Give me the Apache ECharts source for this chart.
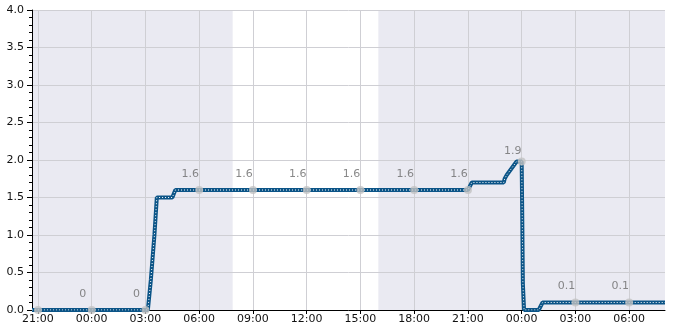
<!DOCTYPE html>
<html>
<head>
<meta charset="utf-8">
<script src="https://cdn.jsdelivr.net/npm/echarts@6/dist/echarts.min.js"></script>
<style>html,body{margin:0;padding:0;background:#fff}#c{width:685px;height:330px}</style>
</head>
<body>
<div id="c"></div>
<script>
// ---- data ----
const axisStart = "2024-01-01T20:40";
const axisEnd = "2024-01-03T08:00";
const tickTimes = ["2024-01-01T21:00","2024-01-02T00:00","2024-01-02T03:00","2024-01-02T06:00","2024-01-02T09:00","2024-01-02T12:00","2024-01-02T15:00","2024-01-02T18:00","2024-01-02T21:00","2024-01-03T00:00","2024-01-03T03:00","2024-01-03T06:00"];
const tickLabels = ["21:00","00:00","03:00","06:00","09:00","12:00","15:00","18:00","21:00","00:00","03:00","06:00"];
const lineTimes = ["2024-01-01T20:40","2024-01-02T03:08","2024-01-02T03:18","2024-01-02T03:30","2024-01-02T03:38","2024-01-02T04:30","2024-01-02T04:40","2024-01-02T21:00","2024-01-02T21:13","2024-01-02T23:00","2024-01-02T23:03","2024-01-02T23:10","2024-01-02T23:43","2024-01-03T00:00","2024-01-03T00:02","2024-01-03T00:04","2024-01-03T00:08","2024-01-03T00:57","2024-01-03T01:10","2024-01-03T08:00"];
const lineValues = [0,0,0.4,1.0,1.5,1.5,1.6,1.6,1.7,1.7,1.75,1.8,1.98,1.98,1.2,0.35,0,0,0.1,0.1];
const markerTimes = tickTimes;
const markerValues = [0,0,0,1.6,1.6,1.6,1.6,1.6,1.6,1.98,0.1,0.1];
const labelTimes = tickTimes.slice(1);
const labelValues = [0,0,1.6,1.6,1.6,1.6,1.6,1.6,1.9,0.1,0.1];
const shadeStarts = ["2024-01-01T20:40","2024-01-02T16:00"];
const shadeEnds = ["2024-01-02T07:52","2024-01-03T08:00"];

// ---- helpers ----
const base = new Date("2024-01-01T21:00").getTime();
const hrs = s => (new Date(s).getTime() - base) / 3600000;
const lineData = lineTimes.map((t,i)=>[hrs(t), lineValues[i]]);
const markerData = markerTimes.map((t,i)=>[hrs(t), markerValues[i]]);
const labelData = labelTimes.map((t,i)=>[hrs(t), labelValues[i]]);
const shadeData = shadeStarts.map((s,i)=>[hrs(s), hrs(shadeEnds[i])]);
const tickHours = tickTimes.map(hrs);
const fmtTick = v => { const i = tickHours.findIndex(h => Math.abs(h - v) < 1e-6); return i >= 0 ? tickLabels[i] : ''; };

const chart = echarts.init(document.getElementById('c'), null, {renderer:'canvas'});
chart.setOption({
  animation:false,
  backgroundColor:'#ffffff',
  textStyle:{fontFamily:'DejaVu Sans'},
  grid:{left:32, right:20, top:10, bottom:20, containLabel:false, outerBoundsMode:'none'},
  xAxis:{
    type:'value', min:hrs(axisStart), max:hrs(axisEnd),
    axisLine:{show:true, onZero:false, lineStyle:{color:'#000', width:1}},
    axisTick:{show:true, length:4, lineStyle:{color:'#000'}, customValues:tickHours},
    axisLabel:{customValues:tickHours, formatter:fmtTick, color:'#111', fontSize:11, lineHeight:8, margin:5,
      fontFamily:'DejaVu Sans', hideOverlap:false},
    splitLine:{show:true, lineStyle:{color:'#cfcfd4', width:1}}
  },
  yAxis:{
    type:'value', min:0, max:4, interval:0.5,
    axisLine:{show:true, onZero:false, lineStyle:{color:'#000', width:1}},
    axisTick:{show:true, length:5, lineStyle:{color:'#000'}},
    minorTick:{show:true, splitNumber:5, length:3, lineStyle:{color:'#000'}},
    axisLabel:{formatter:v=>v.toFixed(1), color:'#111', fontSize:11, lineHeight:6, margin:8, fontFamily:'DejaVu Sans'},
    splitLine:{show:true, lineStyle:{color:'#cfcfd4', width:1}}
  },
  series:[
    {
      type:'custom', z:-1, silent:true,
      data:shadeData,
      renderItem:(params, api)=>{
        const p0 = api.coord([api.value(0), 4]);
        const p1 = api.coord([api.value(1), 0]);
        const cs = params.coordSys;
        const x0 = Math.max(p0[0], cs.x), x1 = Math.min(p1[0], cs.x + cs.width);
        return {type:'rect', shape:{x:x0, y:p0[1], width:x1-x0, height:p1[1]-p0[1]}, style:{fill:'#eaeaf2'}};
      }
    },
    {
      type:'line', data:lineData, showSymbol:false, clip:true,
      lineStyle:{color:'#0b5487', width:4}, z:2
    },
    {
      type:'line', data:lineData, showSymbol:false, clip:true,
      lineStyle:{color:'#ffffff', width:1, type:[1,2]}, z:3
    },
    {
      type:'scatter', data:markerData, symbol:'circle', symbolSize:8, z:4,
      itemStyle:{color:'#c2c2c2'}, label:{show:false}
    },
    {
      type:'scatter', data:labelData, symbol:'circle', symbolSize:0, z:5, silent:true,
      itemStyle:{color:'rgba(0,0,0,0)'},
      label:{show:true, position:'inside', offset:[-9,-16], color:'#6a6a6a', fontSize:11, fontFamily:'DejaVu Sans',
        formatter:p=> String(p.value[1])}
    }
  ]
});
</script>
</body>
</html>
